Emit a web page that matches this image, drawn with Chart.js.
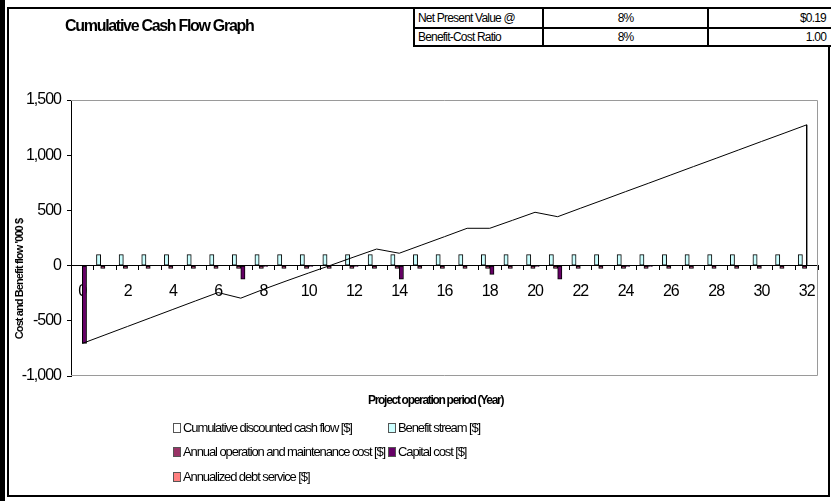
<!DOCTYPE html>
<html>
<head>
<meta charset="utf-8">
<title>Cumulative Cash Flow Graph</title>
<script src="https://cdn.jsdelivr.net/npm/chart.js@4"></script>
<style>
body { margin: 0; background: #fff; }
#page {
    position: relative; width: 831px; height: 501px; overflow: hidden;
    font-family: 'Liberation Sans Narrow', 'Arial Narrow', 'Liberation Sans', Arial, sans-serif;
    color: #000;
}
#chart { position: absolute; left: 0; top: 0; }
.edge { position: absolute; left: 0; top: 0; width: 5px; height: 501px; background: #000; }
.frame { position: absolute; left: 7px; top: 7px; width: 823px; height: 490px; border: 2px solid #000; box-sizing: border-box; }
.title { position: absolute; left: 65px; top: 17px; font-size: 16px; font-weight: bold; letter-spacing: -1.3px; white-space: nowrap; }
table.npv { position: absolute; left: 413px; top: 7px; width: 420px; table-layout: fixed; border-collapse: collapse; font-size: 12px; letter-spacing: -0.8px; background: #fff; }
table.npv td { border: 2px solid #000; height: 16px; padding: 0 3px; white-space: nowrap; }
table.npv tr:first-child td { height: 18px; }
table.npv td.c { text-align: center; }
table.npv td.r { text-align: right; padding-right: 5px; }
.ytitle {
    position: absolute; left: 19px; top: 279px; font-size: 11px; font-weight: bold; letter-spacing: -0.9px;
    white-space: nowrap; transform: translate(-50%, -50%) rotate(-90deg);
}
.xtitle { position: absolute; left: 368px; top: 393px; font-size: 12px; font-weight: bold; letter-spacing: -1.3px; white-space: nowrap; }
.legend { position: absolute; left: 0; top: 0; font-size: 13px; letter-spacing: -1.1px; }
.legend .item { position: absolute; white-space: nowrap; display: flex; align-items: center; }
.legend .box { width: 6px; height: 8px; border: 1px solid #555; margin-right: 2px; display: inline-block; }
</style>
</head>
<body>
<div id="page">
    <canvas id="chart" width="831" height="501"></canvas>
    <div class="edge"></div>
    <div class="frame"></div>
    <div class="title">Cumulative Cash Flow Graph</div>
    <table class="npv">
        <colgroup><col style="width:129px"><col style="width:165px"><col></colgroup>
        <tr><td>Net Present Value @</td><td class="c">8%</td><td class="r">$0.19</td></tr>
        <tr><td>Benefit-Cost Ratio</td><td class="c">8%</td><td class="r">1.00</td></tr>
    </table>
    <div class="ytitle">Cost and Benefit flow '000 $</div>
    <div class="xtitle">Project operation period (Year)</div>
    <div class="legend" id="legend"></div>
</div>
<script>
// values in '000 $ per year of operation

const years = ['0', '1', '2', '3', '4', '5', '6', '7', '8', '9', '10', '11', '12', '13', '14', '15', '16',
    '17', '18', '19', '20', '21', '22', '23', '24', '25', '26', '27', '28', '29', '30', '31', '32'];

const benefitStream = [0, 100, 100, 100, 100, 100, 100, 100, 100, 100, 100, 100, 100, 100, 100, 100, 100,
    100, 100, 100, 100, 100, 100, 100, 100, 100, 100, 100, 100, 100, 100, 100, 100];

const omCost = [0, -25, -25, -25, -25, -25, -25, -25, -25, -25, -25, -25, -25, -25, -25, -25, -25,
    -25, -25, -25, -25, -25, -25, -25, -25, -25, -25, -25, -25, -25, -25, -25, -25];

const capitalCost = [-705, 0, 0, 0, 0, 0, 0, -124, -8, 0, -8, 0, -8, 0, -124, 0, 0,
    0, -80, 0, -8, -124, 0, 0, -8, -8, 0, 0, 0, 0, 0, 0, 0];

const debtService = [0, 0, 0, 0, 0, 0, 0, 0, 0, 0, 0, 0, 0, 0, 0, 0, 0,
    0, 0, 0, 0, 0, 0, 0, 0, 0, 0, 0, 0, 0, 0, 0, 0];

// cumulative line, closed back down to zero at the last year
const cumulativeYears = [0, 1, 2, 3, 4, 5, 6, 7, 8, 9, 10, 11, 12, 13, 14, 15, 16,
    17, 18, 19, 20, 21, 22, 23, 24, 25, 26, 27, 28, 29, 30, 31, 32, 32];

const cumulativeFlow = [-705, -628, -551, -474, -397, -320, -244, -295, -215, -140, -67, 5, 78, 150, 112, 187, 262,
    338, 338, 410, 483, 443, 519, 594, 670, 745, 821, 897, 972, 1048, 1124, 1199, 1275, 0];

const yTicks = [-1000, -500, 0, 500, 1000, 1500];

const FONT = "'Liberation Sans Narrow', 'Arial Narrow', 'Liberation Sans', Arial, sans-serif";

// each bar takes 0.1875 of a year; the four sit side by side round the year centre
const BAR_SLOT = 0.1875;

// canvas text is squeezed like the rest of the sheet
const squeezeText = {
    id: 'squeezeText',
    beforeLayout(chart) { chart.ctx.letterSpacing = '-1px'; },
    beforeDraw(chart) { chart.ctx.letterSpacing = '-1px'; }
};

// grey border round the plot area (left side is the y axis)
const plotFrame = {
    id: 'plotFrame',
    beforeDatasetsDraw(chart) {
        const { ctx, chartArea: a } = chart;
        ctx.save();
        ctx.strokeStyle = '#9a9a9a';
        ctx.lineWidth = 1;
        ctx.beginPath();
        ctx.moveTo(a.left, a.top + 0.5);
        ctx.lineTo(a.right - 0.5, a.top + 0.5);
        ctx.lineTo(a.right - 0.5, a.bottom - 0.5);
        ctx.lineTo(a.left, a.bottom - 0.5);
        ctx.stroke();
        ctx.restore();
    }
};

// one bar series on its own hidden year axis, nudged into its slot
function barSet(label, data, color, slot) {
    return {
        label: label,
        data: data.map((v, i) => ({ x: Number(years[i]), y: v })),
        xAxisID: 'xb' + slot,
        grouped: false,
        backgroundColor: color,
        borderColor: '#000',
        borderWidth: 1,
        borderSkipped: false,
        barThickness: 4.25
    };
}

function slotAxis(slot) {
    const shift = (slot - 1.5) * BAR_SLOT;
    return { type: 'linear', display: false, offset: false, grid: { offset: false }, min: -0.5 - shift, max: 32.5 - shift };
}

const ctx = document.getElementById('chart');

const chart = new Chart(ctx, {
    type: 'bar',
    data: {
        labels: years,
        datasets: [
            {
                type: 'line',
                label: 'Cumulative discounted cash flow [$]',
                data: cumulativeYears.map((yr, i) => ({ x: yr, y: cumulativeFlow[i] })),
                xAxisID: 'xl',
                borderColor: '#000',
                backgroundColor: '#fff',
                borderWidth: 1,
                pointRadius: 0,
                tension: 0
            },
            barSet('Benefit stream [$]', benefitStream, '#CCFFFF', 0),
            barSet('Annual operation and maintenance cost [$]', omCost, '#993366', 1),
            barSet('Capital cost [$]', capitalCost, '#660066', 2),
            barSet('Annualized debt service [$]', debtService, '#FF8080', 3)
        ]
    },
    options: {
        responsive: false,
        animation: false,
        devicePixelRatio: 1,
        layout: { padding: { left: 8, top: 100, right: 13, bottom: 125 } },
        plugins: {
            legend: { display: false },
            tooltip: { enabled: false }
        },
        scales: {
            x: {
                type: 'category',
                position: { y: 0 },
                offset: true,
                grid: { offset: true, drawOnChartArea: false, tickLength: 4, color: '#000' },
                border: { color: '#000', width: 1 },
                ticks: {
                    autoSkip: false,
                    maxRotation: 0,
                    padding: 12,
                    color: '#000',
                    font: { family: FONT, size: 16 },
                    callback: function (value, index) {
                        return index % 2 === 0 ? this.getLabelForValue(value) : '';
                    }
                }
            },
            xl: {
                type: 'linear',
                display: false,
                offset: false,
                grid: { offset: false },
                min: -0.5,
                max: 32.5
            },
            xb0: slotAxis(0),
            xb1: slotAxis(1),
            xb2: slotAxis(2),
            xb3: slotAxis(3),
            y: {
                min: -1000,
                max: 1500,
                afterFit(axis) { axis.width = 63; },
                afterBuildTicks(axis) { axis.ticks = yTicks.map(v => ({ value: v })); },
                grid: { drawOnChartArea: false, tickLength: 4, color: '#000' },
                border: { color: '#000', width: 1 },
                ticks: {
                    padding: 6,
                    color: '#000',
                    font: { family: FONT, size: 16 }
                }
            }
        }
    },
    plugins: [squeezeText, plotFrame]
});

// legend in two columns, built from the datasets

const legendSpots = [[173, 428], [388, 428], [173, 452], [388, 452], [173, 477]];
const legendEl = document.getElementById('legend');

chart.data.datasets.forEach((ds, i) => {
    const fill = ds.type === 'line' ? '#fff' : ds.backgroundColor;
    legendEl.innerHTML += `
        <div class="item" style="left:${legendSpots[i][0]}px; top:${legendSpots[i][1] - 8}px">
            <span class="box" style="background:${fill}"></span>${ds.label}
        </div>
    `;
});
</script>
</body>
</html>
